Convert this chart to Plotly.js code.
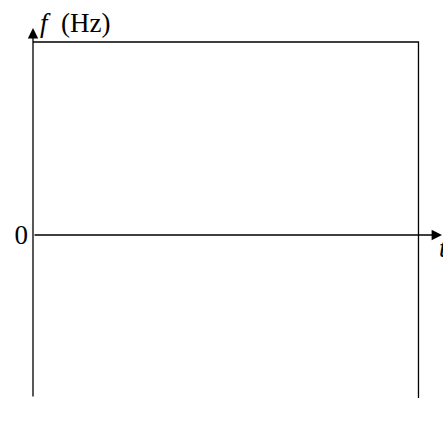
<!DOCTYPE html>
<html>
<head>
<meta charset="utf-8">
<script src="https://cdn.plot.ly/plotly-3.0.1.min.js"></script>
<style>html,body{margin:0;padding:0;background:#fff;}#chart{width:443px;height:426px;}</style>
</head>
<body>
<div id="chart"></div>
<script>
// Frame of the time–frequency plane (values in axis units)
const frameT = [0, 1];          // start / end of the time window
const frameF = [-0.845, 1];     // lower / upper frequency of the window
const yTickVals = [0];
const yTickText = ["0"];
const xLabel = "t";
const yLabel = "f";
const yUnit = "(Hz)";

const tArrow = 1.061;   // end of the t-axis arrow
const fArrow = 1.0725;  // end of the f-axis arrow

const FONT = "Liberation Serif";

const traces = [{
  x: [frameT[0], frameT[1], frameT[1]],
  y: [frameF[1], frameF[1], frameF[0]],
  mode: "lines",
  line: {color: "black", width: 1.3},
  hoverinfo: "skip",
  showlegend: false,
  cliponaxis: false
}];

const layout = {
  width: 443, height: 426,
  margin: {l: 0, r: 0, t: 0, b: 0},
  paper_bgcolor: "white", plot_bgcolor: "white",
  showlegend: false,
  xaxis: {
    range: [-0.0856, 1.0636],
    visible: false, fixedrange: true
  },
  yaxis: {
    range: [-0.9896, 1.2176],
    anchor: "free", position: 33 / 443,
    showgrid: false, zeroline: false, showline: false,
    ticks: "", tickvals: yTickVals, ticktext: yTickText,
    tickfont: {family: FONT, size: 27, color: "black"},
    ticklabelstandoff: 5,
    fixedrange: true
  },
  annotations: [
    { // f axis with arrow
      x: frameT[0], y: fArrow, xref: "x", yref: "y",
      ax: frameT[0], ay: frameF[0], axref: "x", ayref: "y",
      text: "", showarrow: true, arrowhead: 2, arrowsize: 1.6, arrowwidth: 1.3,
      arrowcolor: "black", standoff: 0, startstandoff: 0
    },
    { // t axis with arrow
      x: tArrow, y: 0, xref: "x", yref: "y",
      ax: frameT[0], ay: 0, axref: "x", ayref: "y",
      text: "", showarrow: true, arrowhead: 2, arrowsize: 1.6, arrowwidth: 1.3,
      arrowcolor: "black", standoff: 0, startstandoff: 0
    },
    {
      x: 0.013, y: 1.01, xref: "x", yref: "y",
      xanchor: "left", yanchor: "bottom",
      text: "<i>" + yLabel + "</i>  " + yUnit, showarrow: false,
      font: {family: FONT, size: 27, color: "black"}
    },
    {
      x: 1.0485, y: 0.02, xref: "x", yref: "y",
      xanchor: "left", yanchor: "top",
      text: "<i>" + xLabel + "</i>", showarrow: false,
      font: {family: FONT, size: 27, color: "black"}
    }
  ]
};

Plotly.newPlot("chart", traces, layout, {staticPlot: true, displayModeBar: false});
</script>
</body>
</html>
